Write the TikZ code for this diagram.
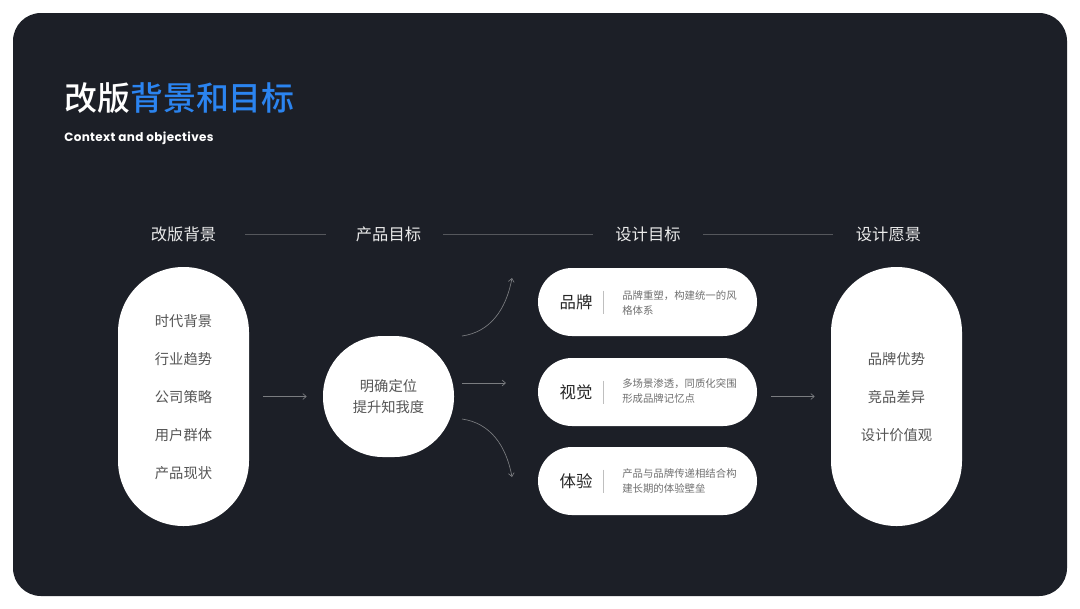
\documentclass[tikz,border=0pt]{standalone}
\usepackage{fontspec}
\newfontfamily\cjk{Noto Sans CJK SC}
\newfontfamily\cjkmed{Noto Sans CJK SC Medium}
\newfontfamily\latinfont[LetterSpace=3]{Poppins}
\usetikzlibrary{arrows.meta}
\definecolor{panelbg}{HTML}{1C1F27}
\definecolor{titleblue}{HTML}{2B84F0}
\definecolor{itemgray}{HTML}{555555}
\definecolor{notegray}{HTML}{707070}
\definecolor{linegray}{HTML}{7A7C80}
\definecolor{rulegray}{HTML}{55575C}
\tikzset{
	header/.style={text=white!92!black, font=\cjk\fontsize{12.2}{14}\selectfont, inner sep=0pt},
	tallpill/.style={draw=none, fill=white, minimum width=98.25pt, minimum height=194.25pt, rounded corners=49pt, inner sep=0pt},
	widepill/.style={draw=none, fill=white, minimum width=164.25pt, minimum height=51pt, rounded corners=25.5pt, inner sep=0pt},
	item/.style={text=itemgray, font=\cjk\fontsize{10.7}{14}\selectfont, inner sep=0pt},
	pillname/.style={text=black!85, font=\cjk\fontsize{12.3}{14}\selectfont, inner sep=0pt},
	pillnote/.style={text=notegray, anchor=west, align=left, font=\cjk\fontsize{7.8}{11.25}\selectfont, inner sep=0pt},
	rule/.style={draw=rulegray, line width=0.45pt},
	flow/.style={draw=linegray, line width=0.5pt, -{Straight Barb[length=2.6pt,width=4.4pt]}},
	divider/.style={draw=black!25, line width=0.75pt}
}
\begin{document}
\begin{tikzpicture}[x=0.75pt,y=-0.75pt]
	\useasboundingbox (0,0) rectangle (1080,608);
	
	%Panel
	\fill[white] (0,0) rectangle (1080,608);
	\fill[panelbg, rounded corners=21pt] (13,13) rectangle (1067,596);
	
	%Title
	\node (title) at (64,98) [anchor=west, inner sep=0pt, text=white, font=\cjkmed\fontsize{24.7}{28}\selectfont]{改版\textcolor{titleblue}{背景和目标}};
	\node (subtitle) at (64,138.5) [anchor=west, inner sep=0pt, text=white, font=\latinfont\bfseries\fontsize{9}{11}\selectfont]{Context and objectives};
	
	%Column headers
	\node (head background) at (183.5,234) [header]{改版背景};
	\node (head product) at (388.5,234) [header]{产品目标};
	\node (head design) at (648,234) [header]{设计目标};
	\node (head vision) at (888.5,234) [header]{设计愿景};
	\draw[rule, shorten <=21.5pt, shorten >=22pt] (head background.east) -- (head product.west);
	\draw[rule, shorten <=16.5pt, shorten >=17pt] (head product.east) -- (head design.west);
	\draw[rule, shorten <=16.5pt, shorten >=17pt] (head design.east) -- (head vision.west);
	
	%First block
	\node (background) at (183.5,396.5) [tallpill]{};
	
	%Writing in the box
	\node (background era) at (183.5,321) [item]{时代背景};
	\node (background trend) at (183.5,359) [item]{行业趋势};
	\node (background strategy) at (183.5,397) [item]{公司策略};
	\node (background users) at (183.5,435) [item]{用户群体};
	\node (background status) at (183.5,473) [item]{产品现状};
	
	%Second block
	\node (product) at (388.5,396.5) [draw=none, fill=white, minimum width=98.25pt, minimum height=90.75pt, rounded corners=45pt, inner sep=0pt, align=center, text=itemgray, font=\cjk\fontsize{10.7}{15.75}\selectfont]{明确定位\\提升知我度};
	
	%Third block
	\node (brand) at (647.5,302) [widepill]{};
	\node (brand name) at (576,302) [pillname]{品牌};
	\node (brand note) at (622,303) [pillnote]{品牌重塑，构建统一的风\\格体系};
	\draw[divider] (brand.center) ++(-44.5,-11.5) -- ++(0,23);
	
	%Fourth block
	\node (visual) at (647.5,392) [widepill]{};
	\node (visual name) at (576,392) [pillname]{视觉};
	\node (visual note) at (622,391) [pillnote]{多场景渗透，同质化突围\\形成品牌记忆点};
	\draw[divider] (visual.center) ++(-44.5,-11.5) -- ++(0,23);
	
	%Fifth block
	\node (experience) at (647.5,481) [widepill]{};
	\node (experience name) at (576,481) [pillname]{体验};
	\node (experience note) at (622,481) [pillnote]{产品与品牌传递相结合构\\建长期的体验壁垒};
	\draw[divider] (experience.center) ++(-44.5,-11.5) -- ++(0,23);
	
	%Sixth block
	\node (vision) at (896.5,396.5) [tallpill]{};
	
	%Writing in the box
	\node (vision edge) at (896.5,359) [item]{品牌优势};
	\node (vision gap) at (896.5,397) [item]{竞品差异};
	\node (vision value) at (896.5,435) [item]{设计价值观};
	
	%Arrows
	\coordinate (fan top) at (462,336);
	\coordinate (fan top end) at (512,278);
	\coordinate (fan mid) at (462,383);
	\coordinate (fan mid end) at (506,383);
	\coordinate (fan low) at (462,419);
	\coordinate (fan low end) at (512,477);
	\draw[flow, shorten <=10.5pt, shorten >=12pt] (background.east) -- (product.west);
	\draw[flow] (fan top) .. controls (490,332) and (506,310) .. (fan top end);
	\draw[flow] (fan mid) -- (fan mid end);
	\draw[flow] (fan low) .. controls (490,423) and (506,445) .. (fan low end);
	\draw[flow, shorten <=10.5pt, shorten >=12pt] (visual.east |- vision.west) -- (vision.west);
	
\end{tikzpicture}
\end{document}
